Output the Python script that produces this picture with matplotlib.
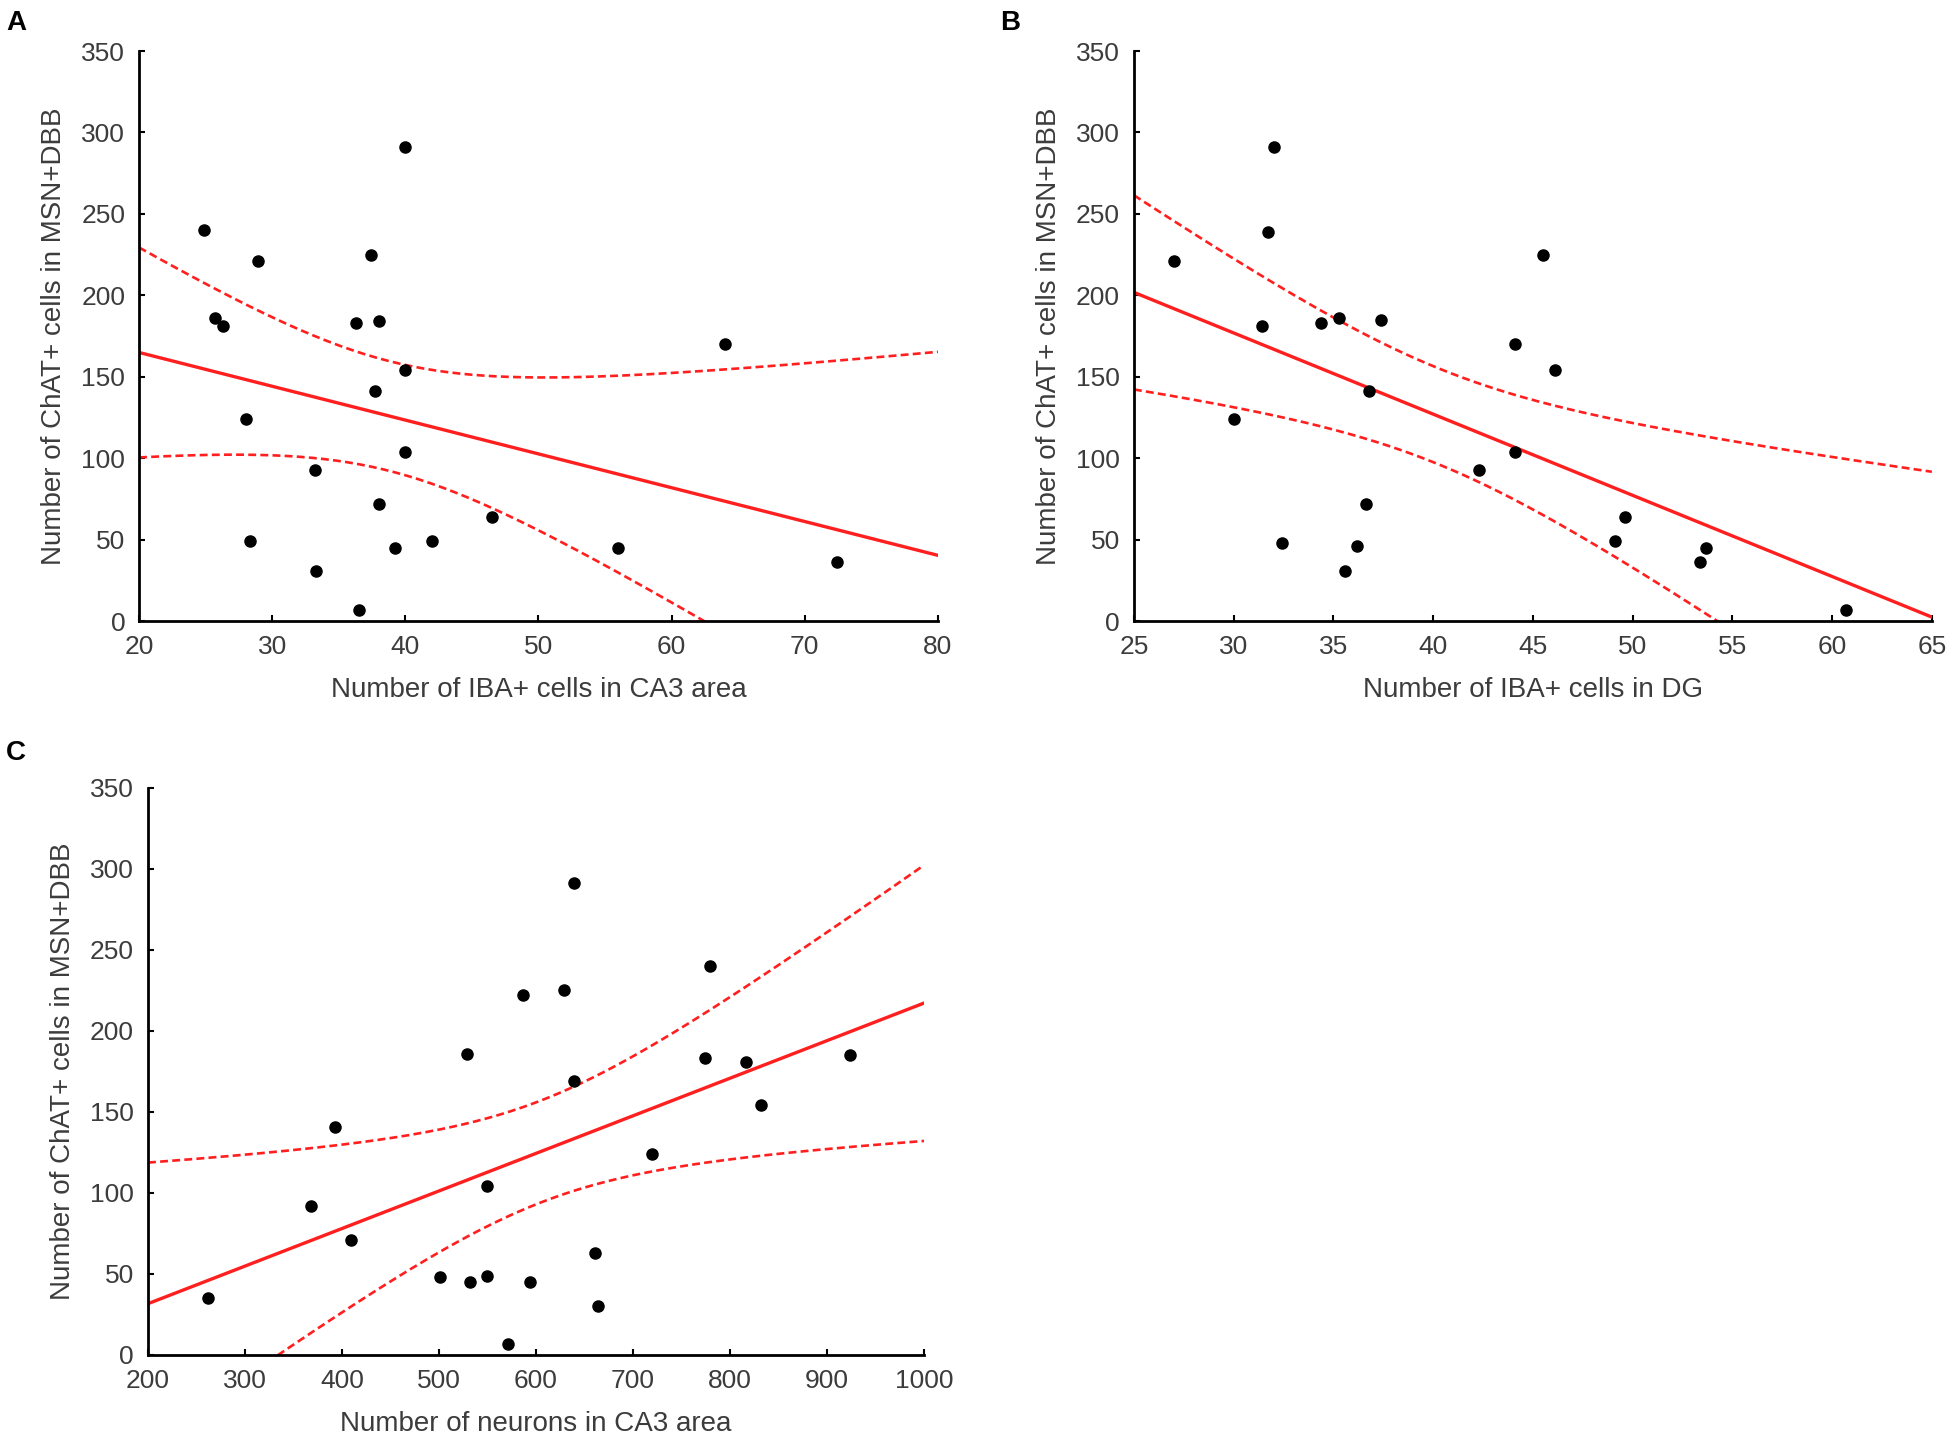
import numpy as np
import matplotlib
matplotlib.use('Agg')
import matplotlib.pyplot as plt

plt.rcParams['font.family'] = ['Liberation Sans', 'DejaVu Sans']

# panel A: IBA+ cells in CA3 vs ChAT+ cells
a_x = [24.9, 28.9, 25.7, 26.3, 28.0, 28.3, 33.2, 33.3, 36.5, 36.3, 37.4, 38.0,
       37.7, 38.0, 39.2, 40.0, 40.0, 40.0, 42.0, 46.5, 56.0, 64.0, 72.4]
a_y = [240, 221, 186, 181, 124, 49, 93, 31, 7, 183, 225, 184,
       141, 72, 45, 291, 154, 104, 49, 64, 45, 170, 36]

# panel B: IBA+ cells in DG
b_x = [27.0, 31.7, 32.0, 31.4, 30.0, 32.4, 34.4, 35.3, 37.4, 36.8, 36.65, 36.2,
       35.6, 42.3, 44.1, 44.1, 45.5, 46.1, 49.1, 49.6, 53.4, 53.7, 60.7]
b_y = [221, 239, 291, 181, 124, 48, 183, 186, 185, 141, 72, 46,
       31, 93, 170, 104, 225, 154, 49, 64, 36, 45, 7]

# panel C: neurons in CA3
c_x = [262, 368, 393, 409, 501, 529, 532, 549, 549, 571, 587, 594,
       629, 639, 639, 661, 664, 720, 774, 779, 816, 832, 924]
c_y = [35, 92, 141, 71, 48, 186, 45, 49, 104, 7, 222, 45,
       225, 291, 169, 63, 30, 124, 183, 240, 181, 154, 185]

a_xticks = [20, 30, 40, 50, 60, 70, 80]
b_xticks = [25, 30, 35, 40, 45, 50, 55, 60, 65]
c_xticks = [200, 300, 400, 500, 600, 700, 800, 900, 1000]
y_ticks = [0, 50, 100, 150, 200, 250, 300, 350]

ylab = 'Number of ChAT+ cells in MSN+DBB'
RED = '#ff1f1f'
TXT = '#3c3c3c'


def panel(ax, x, y, xticks, xlabel, letter, lx, ly):
    x = np.array(x, float)
    y = np.array(y, float)
    n = len(x)
    k, b = np.polyfit(x, y, 1)
    xs = np.linspace(xticks[0], xticks[-1], 200)
    fit = k * xs + b
    res = y - (k * x + b)
    s = np.sqrt(np.sum(res ** 2) / (n - 2))
    se = s * np.sqrt(1.0 / n + (xs - x.mean()) ** 2 / np.sum((x - x.mean()) ** 2))
    t = 2.08  # t(0.975, df=21)
    ax.plot(xs, fit, color=RED, lw=2.4)
    ax.plot(xs, fit + t * se, color=RED, lw=1.9, dashes=(3, 1.6))
    ax.plot(xs, fit - t * se, color=RED, lw=1.9, dashes=(3, 1.6))
    ax.plot(x, y, 'o', color='black', ms=8, mec='black')
    ax.set_xlim(xticks[0], xticks[-1])
    ax.set_ylim(0, 350)
    ax.set_xticks(xticks)
    ax.set_yticks(y_ticks)
    for sp in ['top', 'right']:
        ax.spines[sp].set_visible(False)
    for sp in ['left', 'bottom']:
        ax.spines[sp].set_linewidth(2)
    ax.tick_params(direction='in', length=4, width=1.5, labelcolor=TXT,
                   labelsize=19)
    ax.tick_params(axis='y', pad=10)
    ax.tick_params(axis='x', pad=10)
    ax.set_xlabel(xlabel, fontsize=20, color=TXT, labelpad=13)
    ax.set_ylabel(ylab, fontsize=20, color=TXT, labelpad=10)
    fig.text(lx, ly, letter, fontsize=20, fontweight='bold', ha='left', va='top')


fig = plt.figure(figsize=(19.5, 14.37), dpi=100)
axA = fig.add_axes([0.0713, 0.5678, 0.4097, 0.3967])
axB = fig.add_axes([0.5815, 0.5678, 0.4092, 0.3967])
axC = fig.add_axes([0.0759, 0.0571, 0.3980, 0.3946])

panel(axA, a_x, a_y, a_xticks, 'Number of IBA+ cells in CA3 area', 'A', 0.003, 0.993)
panel(axB, b_x, b_y, b_xticks, 'Number of IBA+ cells in DG', 'B', 0.513, 0.993)
panel(axC, c_x, c_y, c_xticks, 'Number of neurons in CA3 area', 'C', 0.003, 0.485)

fig.savefig('out.png', dpi=100)
